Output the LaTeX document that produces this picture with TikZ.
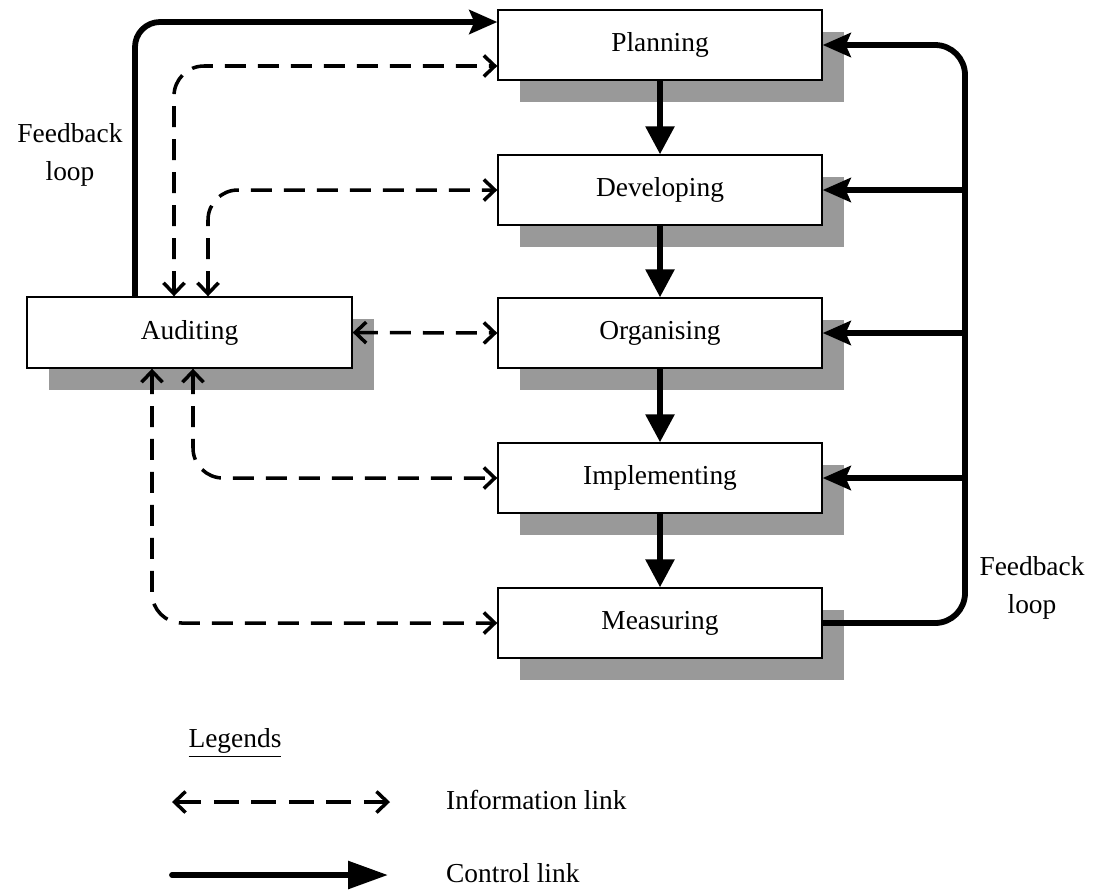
\documentclass[tikz,border=0pt]{standalone}
\usepackage{fontspec}
\setmainfont{Liberation Serif}
\usetikzlibrary{arrows.meta,shadows}
\definecolor{shadowgray}{RGB}{153,153,153}

\begin{document}
\begin{tikzpicture}[x=0.02cm, y=-0.02cm,
  font=\fontsize{15.6}{21.5}\selectfont,
  stage/.style={draw, fill=white, line width=0.8pt, minimum width=6.48cm, minimum height=1.4cm,
    drop shadow={shadow xshift=0.44cm, shadow yshift=-0.44cm, fill=shadowgray, opacity=1}},
  ctrl/.style={line width=3.3pt, -{Stealth[length=0.56cm, width=0.48cm, inset=0.1cm]}},
  flow/.style={line width=3.3pt, -{Triangle[length=0.56cm, width=0.56cm]}},
  info/.style={line width=2pt, dash pattern=on 0.42cm off 0.24cm, rounded corners=0.6cm,
    {Straight Barb[length=0.22cm, width=0.42cm]}-{Straight Barb[length=0.22cm, width=0.42cm]}}]
\useasboundingbox (0,0) rectangle (1097,890);

% Stages of the cycle
\node[stage] (plan) at (660,45) {Planning};
\node[stage] (dev) at (660,190) {Developing};
\node[stage] (org) at (660,333) {Organising};
\node[stage] (impl) at (660,478) {Implementing};
\node[stage] (meas) at (660,623) {Measuring};
\node[stage, minimum width=6.5cm, minimum height=1.42cm] (aud) at (189.5,332.5) {Auditing};

% Control links down the cycle
\draw[flow] (plan) -- (dev);
\draw[flow] (dev) -- (org);
\draw[flow] (org) -- (impl);
\draw[flow] (impl) -- (meas);

% Feedback loop on the right
\coordinate (fbr) at (965,45);
\draw[ctrl, rounded corners=0.6cm] (meas.east) -| (fbr) -- (plan.east);
\draw[ctrl] (fbr |- dev.east) -- (dev.east);
\draw[ctrl] (fbr |- org.east) -- (org.east);
\draw[ctrl] (fbr |- impl.east) -- (impl.east);
\node[align=center] (fbrtxt) at (1032,588) {Feedback\\loop};

% Feedback loop from auditing
\coordinate (fbl) at (135,22);
\draw[ctrl, rounded corners=0.5cm] (fbl |- aud.north) -- (fbl) -- (plan.west |- fbl);
\node[align=center] (fbltxt) at (70,155) {Feedback\\loop};

% Information links
\coordinate (up1) at (174,0);
\coordinate (up2) at (208,0);
\coordinate (dn1) at (193,0);
\coordinate (dn2) at (152,0);
\draw[info] (up1 |- aud.north) |- ([yshift=-0.42cm]plan.west);
\draw[info] (up2 |- aud.north) |- (dev.west);
\draw[info] (aud.east) -- (org.west);
\draw[info] (dn1 |- aud.south) |- (impl.west);
\draw[info] (dn2 |- aud.south) |- (meas.west);

% Legend
\node (legtitle) at (235,743) {\underline{Legends}};
\coordinate (i1) at (172,802);
\coordinate (i2) at (390,802);
\draw[info, dash pattern=on 0.5cm off 0.25cm] (i1) -- (i2);
\node[anchor=west] (infotxt) at (440,800) {Information link};
\coordinate (c1) at (172,875);
\coordinate (c2) at (388,875);
\draw[line width=3.3pt, line cap=round, -{Triangle[length=0.8cm, width=0.54cm]}] (c1) -- (c2);
\node[anchor=west] (ctrltxt) at (440,873) {Control link};
\end{tikzpicture}
\end{document}
